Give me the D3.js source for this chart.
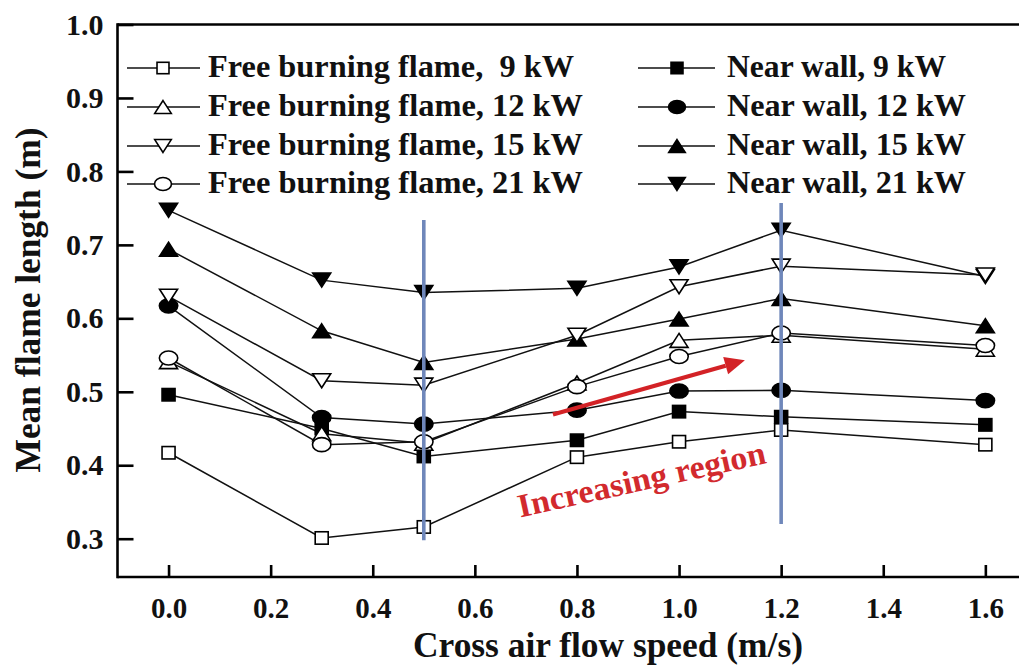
<!DOCTYPE html>
<html>
<head>
<meta charset="utf-8">
<script src="https://cdn.jsdelivr.net/npm/d3@7"></script>
<style>
  html, body { margin: 0; padding: 0; background: #fff; }
  svg { display: block; font-family: "Liberation Serif", "Times New Roman", serif; font-weight: bold; }
  svg text { white-space: pre; }
</style>
</head>
<body>
<svg id="chart" width="1019" height="666"></svg>
<script>
// Cross air flow speed (m/s) at which each flame length was measured
const speeds = [0.0, 0.3, 0.5, 0.8, 1.0, 1.2, 1.6];

// Mean flame length (m), free burning flame
const free9  = [0.417, 0.301, 0.316, 0.411, 0.432, 0.448, 0.428];
const free12 = [0.541, 0.443, 0.430, 0.512, 0.570, 0.577, 0.558];
const free15 = [0.630, 0.515, 0.509, 0.577, 0.643, 0.671, 0.659];
const free21 = [0.546, 0.428, 0.432, 0.507, 0.548, 0.580, 0.563];

// Mean flame length (m), flame near the wall
const wall9  = [0.496, 0.450, 0.412, 0.434, 0.473, 0.466, 0.455];
const wall12 = [0.617, 0.465, 0.456, 0.475, 0.501, 0.502, 0.488];
const wall15 = [0.694, 0.583, 0.540, 0.572, 0.599, 0.627, 0.590];
const wall21 = [0.747, 0.652, 0.635, 0.641, 0.670, 0.720, 0.657];

const freeLabels = ["Free burning flame,  9 kW", "Free burning flame, 12 kW",
                    "Free burning flame, 15 kW", "Free burning flame, 21 kW"];
const wallLabels = ["Near wall, 9 kW", "Near wall, 12 kW", "Near wall, 15 kW", "Near wall, 21 kW"];

const xTicks = [0.0, 0.2, 0.4, 0.6, 0.8, 1.0, 1.2, 1.4, 1.6];
const yTicks = [0.3, 0.4, 0.5, 0.6, 0.7, 0.8, 0.9, 1.0];

// Region boundaries (speed, from length, to length)
const boundaries = [[0.5, 0.298, 0.734], [1.2, 0.320, 0.757]];
// Trend arrow (speed, length) start and end, and its caption
const trendArrow = [[0.753, 0.469], [1.129, 0.543]];
const trendLabel = { text: "Increasing region", at: [0.931, 0.366] };

const svg = d3.select("#chart");
const W = 1019, H = 666;
const plotLeft = 117.5, plotTop = 24.5, plotBottom = 577;

const x = d3.scaleLinear().domain([-0.1, 1.7]).range([plotLeft, plotLeft + 1.8 * 510.5]);
const y = d3.scaleLinear().domain([0.3, 1.0]).range([538.7, plotTop]);

// marker drawing: kind = square | up | down | circle; filled or open
function marker(g, kind, filled, cx, cy, s) {
  const fill = filled ? "#000" : "#fff";
  const sw = 1.6;
  if (kind === "square") {
    g.append("rect").attr("x", cx - 6.5 * s).attr("y", cy - 6.2 * s)
      .attr("width", 13 * s).attr("height", 12.4 * s)
      .attr("fill", fill).attr("stroke", "#000").attr("stroke-width", sw);
  } else if (kind === "circle") {
    g.append("ellipse").attr("cx", cx).attr("cy", cy).attr("rx", 9.2 * s).attr("ry", 7 * s)
      .attr("fill", fill).attr("stroke", "#000").attr("stroke-width", sw);
  } else {
    const hw = 9 * s, hh = 7 * s;
    const d = kind === "up"
      ? `M${cx},${cy - hh}L${cx + hw},${cy + hh}L${cx - hw},${cy + hh}Z`
      : `M${cx},${cy + hh}L${cx + hw},${cy - hh}L${cx - hw},${cy - hh}Z`;
    g.append("path").attr("d", d)
      .attr("fill", fill).attr("stroke", "#000").attr("stroke-width", sw)
      .attr("stroke-linejoin", "miter");
  }
}

const series = [
  { values: wall9,  kind: "square", filled: true },
  { values: wall12, kind: "circle", filled: true },
  { values: wall15, kind: "up",     filled: true },
  { values: wall21, kind: "down",   filled: true },
  { values: free9,  kind: "square", filled: false },
  { values: free12, kind: "up",     filled: false },
  { values: free15, kind: "down",   filled: false },
  { values: free21, kind: "circle", filled: false }
];

const line = d3.line().x((d, i) => x(speeds[i])).y(d => y(d));

const plot = svg.append("g");
// connecting lines first, markers on top
series.forEach(s => {
  plot.append("path").datum(s.values).attr("d", line)
    .attr("fill", "none").attr("stroke", "#111").attr("stroke-width", 1.5);
});
series.forEach(s => {
  const g = plot.append("g");
  s.values.forEach((v, i) => marker(g, s.kind, s.filled, x(speeds[i]), y(v), 1));
});

// region boundaries
boundaries.forEach(b => {
  plot.append("line")
    .attr("x1", x(b[0])).attr("x2", x(b[0]))
    .attr("y1", y(b[1])).attr("y2", y(b[2]))
    .attr("stroke", "#6f87ba").attr("stroke-width", 3.6);
});

// trend arrow
{
  const [p0, p1] = trendArrow;
  const x0 = x(p0[0]), y0 = y(p0[1]), x1 = x(p1[0]), y1 = y(p1[1]);
  const ang = Math.atan2(y1 - y0, x1 - x0);
  const headL = 20, headW = 9;
  const bx = x1 - headL * Math.cos(ang), by = y1 - headL * Math.sin(ang);
  plot.append("line").attr("x1", x0).attr("y1", y0).attr("x2", bx).attr("y2", by)
    .attr("stroke", "#d32226").attr("stroke-width", 4.2);
  const nx = -Math.sin(ang), ny = Math.cos(ang);
  plot.append("path")
    .attr("d", `M${x1},${y1}L${bx + nx * headW},${by + ny * headW}L${bx - nx * headW},${by - ny * headW}Z`)
    .attr("fill", "#d32226");
  plot.append("text")
    .attr("transform", `translate(${x(trendLabel.at[0])},${y(trendLabel.at[1])}) rotate(-12.4)`)
    .attr("text-anchor", "middle").attr("font-size", 33).attr("fill", "#d22a2e")
    .attr("textLength", 253).attr("lengthAdjust", "spacingAndGlyphs")
    .text(trendLabel.text);
}

// frame: left axis, bottom axis, top line
const frame = svg.append("g").attr("stroke", "#000").attr("stroke-width", 2.6).attr("fill", "none");
frame.append("line").attr("x1", plotLeft).attr("x2", plotLeft).attr("y1", plotTop - 1.3).attr("y2", plotBottom + 1.3);
frame.append("line").attr("x1", plotLeft).attr("x2", W).attr("y1", plotBottom).attr("y2", plotBottom);
frame.append("line").attr("x1", plotLeft).attr("x2", W).attr("y1", plotTop).attr("y2", plotTop);

// axes with inward ticks
const xAxis = d3.axisBottom(x).tickValues(xTicks).tickSize(-12).tickPadding(26)
  .tickFormat(d3.format(".1f"));
const gx = svg.append("g").attr("transform", `translate(0,${plotBottom})`).call(xAxis);
gx.select(".domain").remove();
gx.selectAll(".tick line").attr("stroke", "#000").attr("stroke-width", 2.6);
gx.selectAll(".tick text").attr("font-size", 29).attr("font-family", "Liberation Serif")
  .attr("font-weight", "bold").attr("fill", "#111").attr("dy", "0.5em");

const yAxis = d3.axisLeft(y).tickValues(yTicks).tickSize(-16).tickPadding(14)
  .tickFormat(d3.format(".1f"));
const gy = svg.append("g").attr("transform", `translate(${plotLeft},0)`).call(yAxis);
gy.select(".domain").remove();
gy.selectAll(".tick line").attr("stroke", "#000").attr("stroke-width", 2.6);
gy.selectAll(".tick text").attr("font-size", 30).attr("font-family", "Liberation Serif")
  .attr("font-weight", "bold").attr("fill", "#111");

// axis titles
svg.append("text").attr("x", 608).attr("y", 657).attr("text-anchor", "middle")
  .attr("font-size", 35).attr("fill", "#111")
  .attr("textLength", 390).attr("lengthAdjust", "spacingAndGlyphs")
  .text("Cross air flow speed (m/s)");
svg.append("text").attr("transform", "translate(40,300) rotate(-90)")
  .attr("text-anchor", "middle").attr("font-size", 35).attr("fill", "#111")
  .attr("textLength", 345).attr("lengthAdjust", "spacingAndGlyphs")
  .text("Mean flame length (m)");

// legend
const legendRows = [68, 107, 146, 184];
function legendColumn(labels, kinds, filled, lx0, mx, lx1, tx, widths) {
  labels.forEach((lab, i) => {
    const g = svg.append("g");
    const yy = legendRows[i];
    g.append("line").attr("x1", lx0).attr("x2", lx1).attr("y1", yy).attr("y2", yy)
      .attr("stroke", "#111").attr("stroke-width", 1.5);
    marker(g, kinds[i], filled, mx, yy, 0.92);
    g.append("text").attr("x", tx).attr("y", yy + 9).attr("font-size", 32).attr("fill", "#111")
      .attr("xml:space", "preserve")
      .attr("textLength", widths[i]).attr("lengthAdjust", "spacingAndGlyphs")
      .text(lab);
  });
}
legendColumn(freeLabels, ["square", "up", "down", "circle"], false, 127, 163, 200, 208, [366, 375, 375, 375]);
legendColumn(wallLabels, ["square", "circle", "up", "down"], true, 638, 677, 715, 727, [219, 239, 239, 239]);
</script>
</body>
</html>
